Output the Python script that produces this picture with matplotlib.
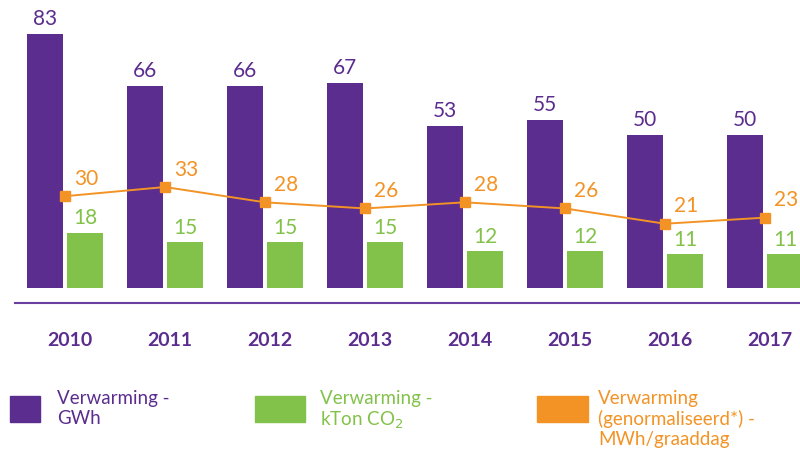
import numpy as np
import matplotlib
matplotlib.use('Agg')
import matplotlib.pyplot as plt
import matplotlib.transforms as mtransforms
from matplotlib.patches import Rectangle

years = ['2010', '2011', '2012', '2013', '2014', '2015', '2016', '2017']
gwh = [83, 66, 66, 67, 53, 55, 50, 50]
kton_co2 = [18, 15, 15, 15, 12, 12, 11, 11]
mwh_graaddag = [30, 33, 28, 26, 28, 26, 21, 23]

paars = '#5B2D8E'
groen = '#82C14A'
oranje = '#F39325'

plt.rcParams['font.family'] = ['Lato', 'DejaVu Sans']

fig = plt.figure(figsize=(8, 4.52), dpi=100)
ax = fig.add_axes([0, 1 - 304 / 452, 1, 304 / 452])

x = np.arange(len(years))
w = 0.36
ax.bar(x - 0.2, gwh, w, color=paars, zorder=2)
ax.bar(x + 0.2, kton_co2, w, color=groen, zorder=2)
ax.plot(x, mwh_graaddag, color=oranje, lw=1.4, marker='s', ms=7, zorder=3)

for i in range(len(years)):
    ax.annotate(str(gwh[i]), (x[i] - 0.2, gwh[i]), xytext=(0, 4), textcoords='offset points',
                ha='center', va='bottom', fontsize=15, color=paars)
    ax.annotate(str(kton_co2[i]), (x[i] + 0.2, kton_co2[i]), xytext=(0, 4), textcoords='offset points',
                ha='center', va='bottom', fontsize=15, color=groen)
    ax.annotate(str(mwh_graaddag[i]), (x[i], mwh_graaddag[i]), xytext=(15, 6), textcoords='offset points',
                ha='center', va='bottom', fontsize=15, color=oranje)

ymin = -15 / 3.06
ax.set_ylim(ymin, 289 / 3.06)
ax.set_xlim(-0.65, 7.35)
ax.axhline(ymin, xmin=15 / 800, xmax=1, color='#6B3FA0', lw=1.5, clip_on=False)

for s in ax.spines.values():
    s.set_visible(False)
ax.set_yticks([])
ax.set_xticks(x)
ax.set_xticklabels(years, fontsize=14, fontweight='bold', color=paars)
ax.tick_params(axis='x', length=0, pad=20)
offset = mtransforms.ScaledTranslation(5 / 100, 0, fig.dpi_scale_trans)
for lbl in ax.get_xticklabels():
    lbl.set_transform(lbl.get_transform() + offset)

# legenda
def fx(px):
    return px / 800

def fy(py):
    return 1 - py / 452

legenda = [
    (10, 40, paars, 'Verwarming -\nGWh', 57),
    (255, 305, groen, 'Verwarming -\nkTon CO$_2$', 320),
    (537, 588, oranje, 'Verwarming\n(genormaliseerd*) -\nMWh/graaddag', 598),
]
for x0, x1, kleur, tekst, tx in legenda:
    fig.patches.append(Rectangle((fx(x0), fy(423)), fx(x1) - fx(x0), fy(397) - fy(423),
                                 transform=fig.transFigure, color=kleur))
    fig.text(fx(tx), fy(390), tekst, ha='left', va='top', fontsize=13.5, color=kleur,
             linespacing=1.2)

fig.savefig('out.png', dpi=100)
